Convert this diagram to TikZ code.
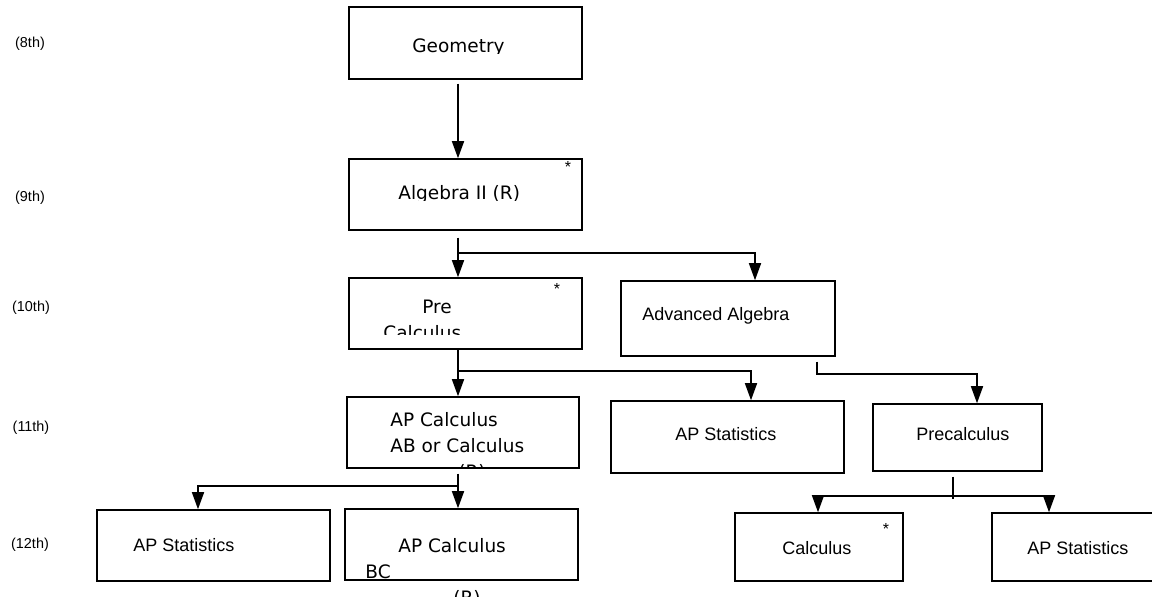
\documentclass[tikz,border=0pt]{standalone}
\usepackage{fontspec}
\setmainfont{Liberation Sans}
\newfontfamily\genevafont{DejaVu Sans}
\usetikzlibrary{arrows.meta}

\begin{document}
\begin{tikzpicture}[x=0.5pt, y=-0.5pt,
    box/.style 2 args={draw, line width=0.75pt, minimum width=#1*0.5pt,
                minimum height=#2*0.5pt, inner sep=0pt},
    gen/.style={font=\genevafont\fontsize{9.25}{11}\selectfont, anchor=base west, inner sep=0pt},
    helv/.style={font=\fontsize{9}{11}\selectfont, anchor=base west, inner sep=0pt},
    grade/.style={font=\fontsize{7.2}{9}\selectfont, inner sep=0pt},
    star/.style={font=\fontsize{8}{9}\selectfont, inner sep=0pt},
    arr/.style={-{Triangle[length=8.5pt, width=6pt]}, line width=0.75pt},
    link/.style={line width=0.75pt}
  ]
  \useasboundingbox (0,0) rectangle (1152,597);
  \clip (0,0) rectangle (1152,597);

  \node[grade] (g8)  at (30,44)  {(8th)};
  \node[grade] (g9)  at (30,198) {(9th)};
  \node[grade] (g10) at (31,308) {(10th)};
  \node[grade] (g11) at (31,428) {(11th)};
  \node[grade] (g12) at (30,545) {(12th)};

  \node[box={233}{72}] (geom)  at (465.5,43)  {};
  \node[box={233}{71}] (alg)   at (465.5,194.5) {};
  \node[box={233}{71}] (pre)   at (465.5,313.5) {};
  \node[box={214}{75}] (adv)   at (728,318.5) {};
  \node[box={232}{71}] (apab)  at (463,432.5) {};
  \node[box={233}{72}] (stat1) at (727.5,437) {};
  \node[box={169}{67}] (prec)  at (957.5,437.5) {};
  \node[box={233}{71}] (stat2) at (213.5,545.5) {};
  \node[box={233}{71}] (apbc)  at (461.5,544.5) {};
  \node[box={168}{68}] (calc)  at (819,547) {};
  \node[box={168}{68}] (stat3) at (1076,547) {};

  \begin{scope}
    \clip (349,0) rectangle (582,54);
    \node[gen] (geomText) at (412,53) {Geometry};
  \end{scope}
  \begin{scope}
    \clip (349,159) rectangle (582,201);
    \node[gen] (algText) at (398,200) {Algebra II (R)};
  \end{scope}
  \node[star] (algStar) at (568,167) {*};
  \node[gen] (preText) at (422,314) {Pre};
  \begin{scope}
    \clip (349,278) rectangle (582,335);
    \node[gen] (preText2) at (383,340) {Calculus};
  \end{scope}
  \node[star] (preStar) at (557,289) {*};
  \node[helv] (advText) at (642,321) {Advanced Algebra};
  \node[gen] (apabText) at (390,427) {AP Calculus};
  \node[gen] (apabText2) at (390,453) {AB or Calculus};
  \begin{scope}
    \clip (347,397) rectangle (579,467);
    \node[gen] (apabText3) at (458,479) {(R)};
  \end{scope}
  \node[helv] (stat1Text) at (675,441) {AP Statistics};
  \node[helv] (precText) at (916,441) {Precalculus};
  \node[helv] (stat2Text) at (133,552) {AP Statistics};
  \node[gen] (apbcText) at (398,553) {AP Calculus};
  \node[gen] (apbcText2) at (365,579) {BC};
  \node[gen] (apbcText3) at (453,605) {(R)};
  \node[helv] (calcText) at (782,555) {Calculus};
  \node[star] (calcStar) at (886,529) {*};
  \node[helv] (stat3Text) at (1027,555) {AP Statistics};

  \coordinate (colA) at (458,0);
  \coordinate (colB) at (755,0);
  \coordinate (colC) at (751,0);
  \coordinate (colD) at (817,0);
  \coordinate (colE) at (198,0);
  \coordinate (colG) at (818,0);
  \coordinate (colH) at (1049,0);
  \coordinate (split1) at (458,253);
  \coordinate (split2) at (458,371);
  \coordinate (split3) at (977,374);
  \coordinate (split4) at (458,486);
  \coordinate (split5) at (953,496);

  \draw[arr] ([yshift=-2pt]geom.south -| colA) -- (alg.north -| colA);
  \draw[arr] ([yshift=-3.5pt]alg.south -| colA) -- (pre.north -| colA);
  \draw[arr] (split1) -| (adv.north -| colB);
  \draw[arr] (pre.south -| colA) -- (apab.north -| colA);
  \draw[arr] (split2) -| (stat1.north -| colC);
  \draw[arr] ([yshift=-2.5pt]adv.south -| colD) |- (split3) -- (prec.north -| split3);
  \draw[arr] ([yshift=-2.5pt]apab.south -| colA) -- (apbc.north -| colA);
  \draw[arr] (split4) -| (stat2.north -| colE);
  \draw[link] ([yshift=-2.5pt]prec.south -| split5) -- ([yshift=-1.5pt]split5);
  \draw[arr] (split5) -| (calc.north -| colG);
  \draw[arr] (split5) -| (stat3.north -| colH);
\end{tikzpicture}
\end{document}
